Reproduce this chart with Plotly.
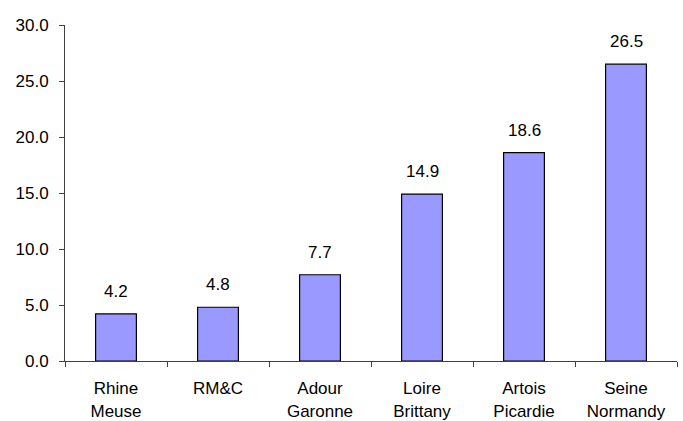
import plotly.graph_objects as go

# River basin names and their values
basins = ["Rhine<br>Meuse", "RM&C", "Adour<br>Garonne", "Loire<br>Brittany",
          "Artois<br>Picardie", "Seine<br>Normandy"]
values = [4.2, 4.8, 7.7, 14.9, 18.6, 26.5]
y_ticks = [0, 5, 10, 15, 20, 25, 30]

FONT = "Liberation Sans, Arial, sans-serif"
SIZE = 17

fig = go.Figure(
    go.Bar(
        x=basins,
        y=values,
        width=0.4,
        marker=dict(color="#9999FF", line=dict(color="#000000", width=1.2)),
        hoverinfo="x+y",
    )
)

# value labels above each bar
for b, v in zip(basins, values):
    fig.add_annotation(
        x=b, y=v, text=f"{v:.1f}", showarrow=False,
        yanchor="bottom", yshift=11,
        font=dict(family=FONT, size=SIZE, color="#000000"),
    )

fig.update_layout(
    width=683, height=421,
    margin=dict(l=65, r=6, t=25, b=60),
    paper_bgcolor="white", plot_bgcolor="white",
    showlegend=False,
    font=dict(family=FONT, size=SIZE, color="#000000"),
    bargap=0.6,
)
fig.update_xaxes(
    type="category",
    tickson="boundaries",
    ticks="outside", ticklen=5, tickcolor="#404040",
    showline=True, linecolor="#404040", linewidth=1,
    showgrid=False, zeroline=False,
    ticklabelstandoff=12,
    automargin=False,
)
fig.update_yaxes(
    range=[0, 30],
    tickmode="array", tickvals=y_ticks,
    tickformat=".1f",
    ticks="outside", ticklen=5, tickcolor="#404040",
    showline=True, linecolor="#404040", linewidth=1,
    showgrid=False, zeroline=False,
    ticklabelstandoff=7,
    automargin=False,
)

fig.write_html("out.html")
